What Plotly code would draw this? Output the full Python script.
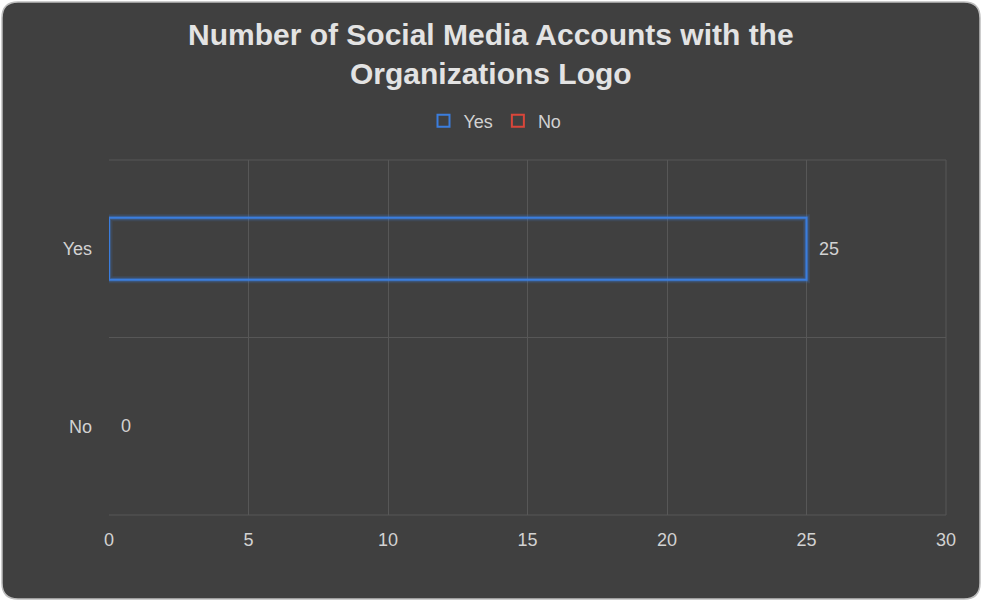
import plotly.graph_objects as go

categories = ["Yes", "No"]
values = [25, 0]
colors = ["#3b7ddd", "#d9463a"]
x_ticks = [0, 5, 10, 15, 20, 25, 30]

W, H = 982, 601
L, R, T, B = 109, 36, 160, 86
pw, ph = W - L - R, H - T - B
FONT = "Liberation Sans, Arial"
TXT = "#d2d2d2"

def px_x(p):
    return (p - L) / pw

def px_y(p):
    return (H - B - p) / ph

fig = go.Figure()

# glow layers
for cat, val, col in zip(categories, values, colors):
    if val == 0:
        continue
    for w, a in [(7, 0.15), (4, 0.3)]:
        fig.add_trace(go.Bar(
            y=[cat], x=[val], orientation="h", width=0.35,
            marker=dict(color="rgba(0,0,0,0)", line=dict(color=col, width=w)),
            opacity=a, showlegend=False, hoverinfo="skip"))

for cat, val, col in zip(categories, values, colors):
    fig.add_trace(go.Bar(
        y=[cat], x=[val], orientation="h", name=cat, width=0.35, legendgroup=cat,
        showlegend=bool(val),
        marker=dict(color="rgba(0,0,0,0)", line=dict(color=col, width=2 if val else 0))))
    if not val:
        # legend entry only (zero-length bar draws nothing)
        fig.add_trace(go.Bar(
            y=[None], x=[None], orientation="h", name=cat, legendgroup=cat,
            marker=dict(color="rgba(0,0,0,0)", line=dict(color=col, width=2))))

annotations = []
for cat, val in zip(categories, values):
    annotations.append(dict(x=val, y=cat, xref="x", yref="y", text=str(val),
                            showarrow=False, xanchor="left", xshift=10,
                            font=dict(family=FONT, size=18, color=TXT)))

annotations.append(dict(
    text="<b>Number of Social Media Accounts with the<br>Organizations Logo</b>",
    xref="paper", yref="paper", x=px_x(491), y=px_y(54), xanchor="center", yanchor="middle",
    showarrow=False, align="center",
    font=dict(family=FONT, size=30, color="#e3e3e3")))

# rounded background card
x0, x1 = px_x(2), px_x(980)
y0, y1 = px_y(599), px_y(2)
rx, ry = 16 / pw, 16 / ph
path = (f"M {x0+rx},{y1} L {x1-rx},{y1} Q {x1},{y1} {x1},{y1-ry} "
        f"L {x1},{y0+ry} Q {x1},{y0} {x1-rx},{y0} L {x0+rx},{y0} "
        f"Q {x0},{y0} {x0},{y0+ry} L {x0},{y1-ry} Q {x0},{y1} {x0+rx},{y1} Z")

grid = "#575757"
shapes = [
    dict(type="path", xref="paper", yref="paper", path=path,
         fillcolor="#404040", line=dict(color="#bdbdbd", width=1.5), layer="below"),
    dict(type="line", xref="paper", yref="paper", x0=0, x1=1, y0=1, y1=1,
         line=dict(color=grid, width=1), layer="below"),
    dict(type="line", xref="paper", yref="paper", x0=0, x1=1, y0=0, y1=0,
         line=dict(color=grid, width=1), layer="below"),
    dict(type="line", xref="paper", yref="paper", x0=1, x1=1, y0=0, y1=1,
         line=dict(color=grid, width=1), layer="below"),
]

fig.update_layout(
    width=W, height=H,
    margin=dict(l=L, r=R, t=T, b=B),
    paper_bgcolor="#ffffff",
    plot_bgcolor="rgba(0,0,0,0)",
    barmode="overlay",
    shapes=shapes,
    annotations=annotations,
    legend=dict(orientation="h", x=px_x(495), xanchor="center", y=px_y(121), yanchor="middle",
                font=dict(family=FONT, size=18, color=TXT),
                bgcolor="rgba(0,0,0,0)", itemwidth=30, tracegroupgap=0),
    xaxis=dict(range=[0, 30], tickvals=x_ticks, showgrid=True, gridcolor=grid, gridwidth=1,
               zeroline=True, zerolinecolor="rgba(0,0,0,0)", showline=False,
               ticks="outside", ticklen=8, tickcolor="rgba(0,0,0,0)",
               tickfont=dict(family=FONT, size=18, color=TXT)),
    yaxis=dict(type="category", categoryorder="array", categoryarray=["No", "Yes"],
               range=[-0.5, 1.5], tickson="boundaries", showgrid=True, gridcolor=grid,
               showline=False, ticks="", ticklabelstandoff=16,
               tickfont=dict(family=FONT, size=18, color=TXT)),
    font=dict(family=FONT),
)

fig.write_html("out.html")
